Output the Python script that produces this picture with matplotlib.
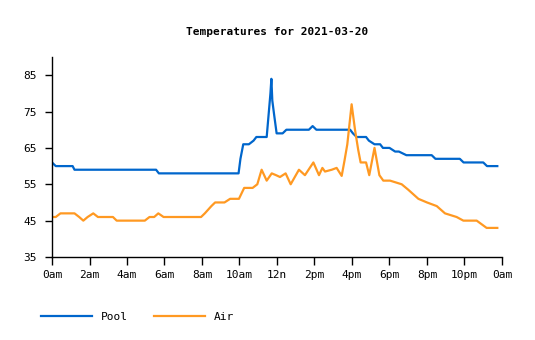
import matplotlib
matplotlib.use("Agg")
import matplotlib.pyplot as plt

title = "Temperatures for 2021-03-20"
series_names = ["Pool", "Air"]
x_tick_hours = [0, 2, 4, 6, 8, 10, 12, 14, 16, 18, 20, 22, 24]
x_tick_labels = ["0am", "2am", "4am", "6am", "8am", "10am", "12n", "2pm", "4pm", "6pm", "8pm", "10pm", "0am"]
y_ticks = [35, 45, 55, 65, 75, 85]

pool_hours = [0, 0.2, 1.1, 1.2, 5.55, 5.7, 9.95, 10.05, 10.2, 10.5, 10.75, 10.9, 11.45, 11.55,
              11.65, 11.7, 11.75, 11.85, 11.98, 12.3, 12.5, 13.7, 13.9, 14.1, 15.9, 16.05, 16.25,
              16.75, 16.9, 17.2, 17.5, 17.65, 18.0, 18.3, 18.5, 18.9, 20.25, 20.45, 21.75, 21.95,
              23.0, 23.2, 23.75]
pool_temps = [61, 60, 60, 59, 59, 58, 58, 62, 66, 66, 67, 68, 68, 74,
              80, 84, 78, 74, 69, 69, 70, 70, 71, 70, 70, 69, 68,
              68, 67, 66, 66, 65, 65, 64, 64, 63, 63, 62, 62, 61,
              61, 60, 60]

air_hours = [0, 0.2, 0.45, 1.2, 1.45, 1.67, 1.9, 2.2, 2.45, 3.25, 3.45, 4.95, 5.2, 5.45, 5.67,
             5.95, 7.95, 8.15, 8.5, 8.7, 9.2, 9.5, 9.97, 10.25, 10.7, 10.95, 11.18, 11.45, 11.72,
             11.95, 12.16, 12.46, 12.73, 13.17, 13.49, 13.94, 14.24, 14.42, 14.56, 14.92, 15.18,
             15.45, 15.6, 15.75, 15.98, 16.16, 16.33, 16.46, 16.75, 16.92, 17.2, 17.46, 17.67,
             18.03, 18.65, 19.0, 19.54, 20.0, 20.52, 20.96, 21.58, 21.94, 22.65, 23.18, 23.75]
air_temps = [46, 46, 47, 47, 46, 45, 46, 47, 46, 46, 45, 45, 46, 46, 47,
             46, 46, 47, 49, 50, 50, 51, 51, 54, 54, 55, 59, 56, 58,
             57.5, 57, 58, 55, 59, 57.5, 61, 57.5, 59.5, 58.5, 59, 59.5,
             57.3, 61.5, 66, 77, 70, 64.5, 61, 61, 57.5, 65, 57.5, 56,
             56, 55, 53.5, 51, 50, 49, 47, 46, 45, 45, 43, 43]

colors = ["#0066CC", "#FF9922"]
font = "DejaVu Sans Mono"

W, H = 535, 340
fig = plt.figure(figsize=(W / 100, H / 100), dpi=100)
ax = fig.add_axes([52 / W, 1 - 257 / H, 450 / W, 200 / H])

ax.plot(pool_hours, pool_temps, color=colors[0], lw=1.6, label=series_names[0])
ax.plot(air_hours, air_temps, color=colors[1], lw=1.6, label=series_names[1])

ax.set_xlim(0, 24)
ax.set_ylim(35, 90)
ax.set_xticks(x_tick_hours)
ax.set_xticklabels(x_tick_labels, fontfamily=font, fontsize=8)
ax.set_yticks(y_ticks)
ax.set_yticklabels([str(v) for v in y_ticks], fontfamily=font, fontsize=8)
ax.tick_params(axis="x", length=6, width=1, pad=3)
ax.tick_params(axis="y", length=5, width=1, pad=6)
for s in ["top", "right"]:
    ax.spines[s].set_visible(False)
for s in ["left", "bottom"]:
    ax.spines[s].set_linewidth(1)

ax.set_title(title, fontfamily=font, fontsize=8, fontweight="bold", pad=16)

fig.legend(loc="lower left", bbox_to_anchor=(31 / W, 8 / H), ncol=2, frameon=False,
           prop={"family": font, "size": 8}, handlelength=4.6, handletextpad=0.8,
           columnspacing=2.3)

fig.savefig("out.png", dpi=100)
